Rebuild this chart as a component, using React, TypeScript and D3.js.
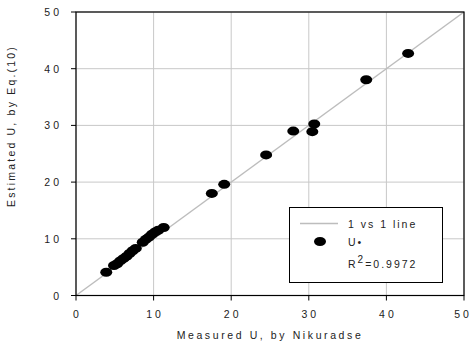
import React from "react";
import * as d3 from "d3";

const measured = [3.9, 4.9, 5.3, 5.7, 6.1, 6.5, 6.9, 7.3, 7.7, 8.6, 9.0, 9.4, 9.8, 10.2, 10.6, 11.3, 17.5, 19.1, 24.5, 28.0, 30.45, 30.7, 37.4, 42.8];
const estimated = [4.1, 5.3, 5.6, 6.1, 6.5, 6.9, 7.4, 7.9, 8.3, 9.4, 9.9, 10.3, 10.8, 11.2, 11.5, 12.0, 18.0, 19.6, 24.8, 29.0, 28.9, 30.25, 38.05, 42.7];
const ticks = [0, 10, 20, 30, 40, 50];
const tickLabels = ["0", "10", "20", "30", "40", "50"];
const xTitle = "Measured U, by Nikuradse";
const yTitle = "Estimated U, by Eq.(10)";
const legendLine = "1 vs 1 line";
const legendPoint = "U*";
const r2Value = "0.9972";

const W = 472, H = 349;
const L = 76, R = 464, T = 12, B = 295.5;
const FONT = "'Liberation Sans', Arial, sans-serif";

export default function App() {
  const x = d3.scaleLinear().domain([0, 50]).range([L, R]);
  const y = d3.scaleLinear().domain([0, 50]).range([B, T]);
  const txt = { fontFamily: FONT, fontSize: 10.5, fill: "#222" } as const;
  const lx = 289.5, ly = 207.5, lw = 153, lh = 75;
  return (
    <svg width={W} height={H} style={{ position: "absolute", left: 0, top: 0, background: "#fff" }}>
      <rect x={0} y={0} width={W} height={H} fill="#fff" />
      {ticks.map((t) => (
        <g key={"g" + t}>
          <line x1={x(t)} x2={x(t)} y1={T} y2={B} stroke="#c8c8c8" strokeWidth={1} />
          <line x1={L} x2={R} y1={y(t)} y2={y(t)} stroke="#c8c8c8" strokeWidth={1} />
        </g>
      ))}
      <line x1={x(0)} y1={y(0)} x2={x(50)} y2={y(50)} stroke="#bdbdbd" strokeWidth={1.5} />
      <rect x={L} y={T} width={R - L} height={B - T} fill="none" stroke="#000" strokeWidth={1.2} />
      {ticks.map((t, i) => (
        <g key={"t" + t}>
          <line x1={L - 5} x2={L} y1={y(t)} y2={y(t)} stroke="#000" />
          <line x1={x(t)} x2={x(t)} y1={B} y2={B + 5} stroke="#000" />
          <text x={L - 14} y={y(t) + 4} textAnchor="end" letterSpacing={3} {...txt}>{tickLabels[i]}</text>
          <text x={Math.min(x(t) + 1.5, W - 9)} y={y(0) + 22} textAnchor="middle" letterSpacing={3} {...txt}>{tickLabels[i]}</text>
        </g>
      ))}
      {measured.map((m, i) => (
        <ellipse key={"p" + i} cx={x(m)} cy={y(estimated[i])} rx={6} ry={4.5} fill="#000" />
      ))}
      <text x={270} y={339} textAnchor="middle" letterSpacing={2.6} {...txt}>{xTitle}</text>
      <text transform={`translate(15,${126}) rotate(-90)`} textAnchor="middle" letterSpacing={2.2} {...txt}>{yTitle}</text>
      <rect x={lx} y={ly} width={lw} height={lh} fill="#fff" stroke="#000" strokeWidth={1} />
      <line x1={300} x2={338} y1={223.5} y2={223.5} stroke="#bdbdbd" strokeWidth={1.5} />
      <text x={348} y={227.5} letterSpacing={2} {...txt}>{legendLine}</text>
      <ellipse cx={320} cy={241.5} rx={6} ry={4.5} fill="#000" />
      <text x={348} y={246} letterSpacing={2} {...txt}>{legendPoint.replace("*", "\u2022")}</text>
      <text x={348} y={268} letterSpacing={2} {...txt}>
        R<tspan dy={-5} fontSize={10}>2</tspan><tspan dy={5}>={r2Value}</tspan>
      </text>
    </svg>
  );
}
